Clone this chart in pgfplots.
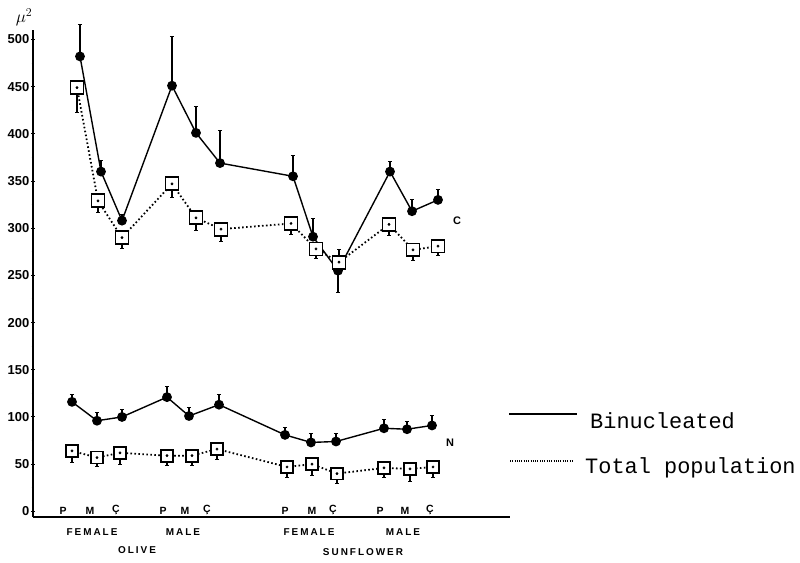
\documentclass[border=0pt]{standalone}
\usepackage{pgfplots}
\pgfplotsset{compat=1.18}
\usepackage{pgfplotstable}
\usepackage{fontspec}
\setmainfont{Liberation Sans}
\newfontfamily\lblfont[LetterSpace=20]{Liberation Sans}
\newfontfamily\legfont{Liberation Mono}

\pgfplotstableread{
x y ep em
80 482 34 0
101 360 12 0
122 308 6 0
172 451 52 0
196 401 28 0
220 369 35 0
293 355 22 0
313 291 19 0
338 255 0 23
390 360 11 0
412 318 12 0
438 330 11 0
}\binC
\pgfplotstableread{
x y ep em
77 449 0 26
98 329 0 12
122 290 0 11
172 347 0 14
196 311 0 13
221 299 0 13
291 305 0 12
316 278 0 10
339 264 13 0
389 304 0 12
413 277 0 11
438 281 0 10
}\totC
\pgfplotstableread{
x y ep em
72 116 8 0
97 96 9 0
122 100 8 0
167 121 11 0
189 101 9 0
219 113 11 0
285 81 8 0
311 73 10 0
336 74 9 0
384 88 9 0
407 87 8 0
432 91 11 0
}\binN
\pgfplotstableread{
x y ep em
72 64 0 12
97 57 0 10
120 62 0 12
167 59 0 10
192 59 0 10
217 66 0 11
287 47 0 11
312 50 0 12
337 40 0 10
384 46 0 10
410 45 0 13
433 47 0 11
}\totN

\begin{document}
\begin{tikzpicture}
\useasboundingbox (0,0) rectangle (800bp,563bp);
\begin{axis}[
  at={(33bp,46bp)}, anchor=south west,
  scale only axis, width=477bp, height=487bp,
  xmin=33, xmax=510, ymin=-6, ymax=510,
  axis x line=bottom, axis y line=left,
  axis line style={-, line width=1.6pt},
  clip=false,
  ytick={0,50,...,500}, minor y tick num=1,
  /pgf/number format/assume math mode=true,
  yticklabel style={font=\bfseries\fontsize{13}{13}\selectfont, inner sep=1.5pt},
  ytick style={line width=1pt, black},
  major tick length=4pt, minor tick length=3pt, tick align=center,
  xtick={63,90,116,163,185,207,285,312,333,380,405,430},
  xticklabels={P,M,Ç,P,M,Ç,P,M,Ç,P,M,Ç},
  xtick style={draw=none},
  xticklabel style={font=\bfseries\fontsize{10.5}{10.5}\selectfont, anchor=south, yshift=1pt},
]
% Binucleated, C
\addplot[black, line width=1.4pt, mark=*, mark size=4.2pt,
  error bars/.cd, y dir=both, y explicit,
  error bar style={line width=1.1pt},
  error mark options={rotate=90, line width=1pt, mark size=2.2pt}]
  table[x=x, y=y, y error plus=ep, y error minus=em] {\binC};
% Total population, C
\addplot[black, line width=1.8pt, dash pattern=on 1.6pt off 2.4pt,
  mark=square*, mark size=6.5pt, mark options={solid, fill=white, draw=black, line width=1.8pt},
  error bars/.cd, y dir=both, y explicit,
  error bar style={line width=1.1pt, solid},
  error mark options={rotate=90, line width=1pt, mark size=2pt}]
  table[x=x, y=y, y error plus=ep, y error minus=em] {\totC};
\addplot[only marks, mark=*, mark size=1.2pt, black] table[x=x, y=y] {\totC};
% Binucleated, N
\addplot[black, line width=1.4pt, mark=*, mark size=4.2pt,
  error bars/.cd, y dir=both, y explicit,
  error bar style={line width=1.1pt},
  error mark options={rotate=90, line width=1pt, mark size=2.2pt}]
  table[x=x, y=y, y error plus=ep, y error minus=em] {\binN};
% Total population, N
\addplot[black, line width=1.8pt, dash pattern=on 1.6pt off 2.4pt,
  mark=square*, mark size=6pt, mark options={solid, fill=white, draw=black, line width=1.8pt},
  error bars/.cd, y dir=both, y explicit,
  error bar style={line width=1.1pt, solid},
  error mark options={rotate=90, line width=1pt, mark size=2pt}]
  table[x=x, y=y, y error plus=ep, y error minus=em] {\totN};
\addplot[only marks, mark=*, mark size=1.2pt, black] table[x=x, y=y] {\totN};
\end{axis}
\begin{scope}[x=1bp, y=1bp]
\node[font=\lblfont\bfseries\fontsize{10}{10}\selectfont] at (92,31) {FEMALE};
\node[font=\lblfont\bfseries\fontsize{10}{10}\selectfont] at (183,31) {MALE};
\node[font=\lblfont\bfseries\fontsize{10}{10}\selectfont] at (309,31) {FEMALE};
\node[font=\lblfont\bfseries\fontsize{10}{10}\selectfont] at (403,31) {MALE};
\node[font=\lblfont\bfseries\fontsize{10}{10}\selectfont] at (137,13) {OLIVE};
\node[font=\lblfont\bfseries\fontsize{10}{10}\selectfont] at (363,11) {SUNFLOWER};
\node[font=\bfseries\fontsize{11}{11}\selectfont] at (457,342) {C};
\node[font=\bfseries\fontsize{11}{11}\selectfont] at (450,120) {N};
\node[font=\fontsize{17}{17}\selectfont] at (24,546) {$\mu^2$};
\draw[line width=1.2pt] (509,149) -- (577,149);
\node[anchor=west, font=\legfont\fontsize{22}{22}\selectfont, inner sep=0pt] at (590,142) {Binucleated};
\draw[line width=1.1pt, dash pattern=on 1pt off 1.3pt] (510,102) -- (574,102);
\node[anchor=west, font=\legfont\fontsize{22}{22}\selectfont, inner sep=0pt] at (585,95) {Total population};
\end{scope}
\end{tikzpicture}
\end{document}
